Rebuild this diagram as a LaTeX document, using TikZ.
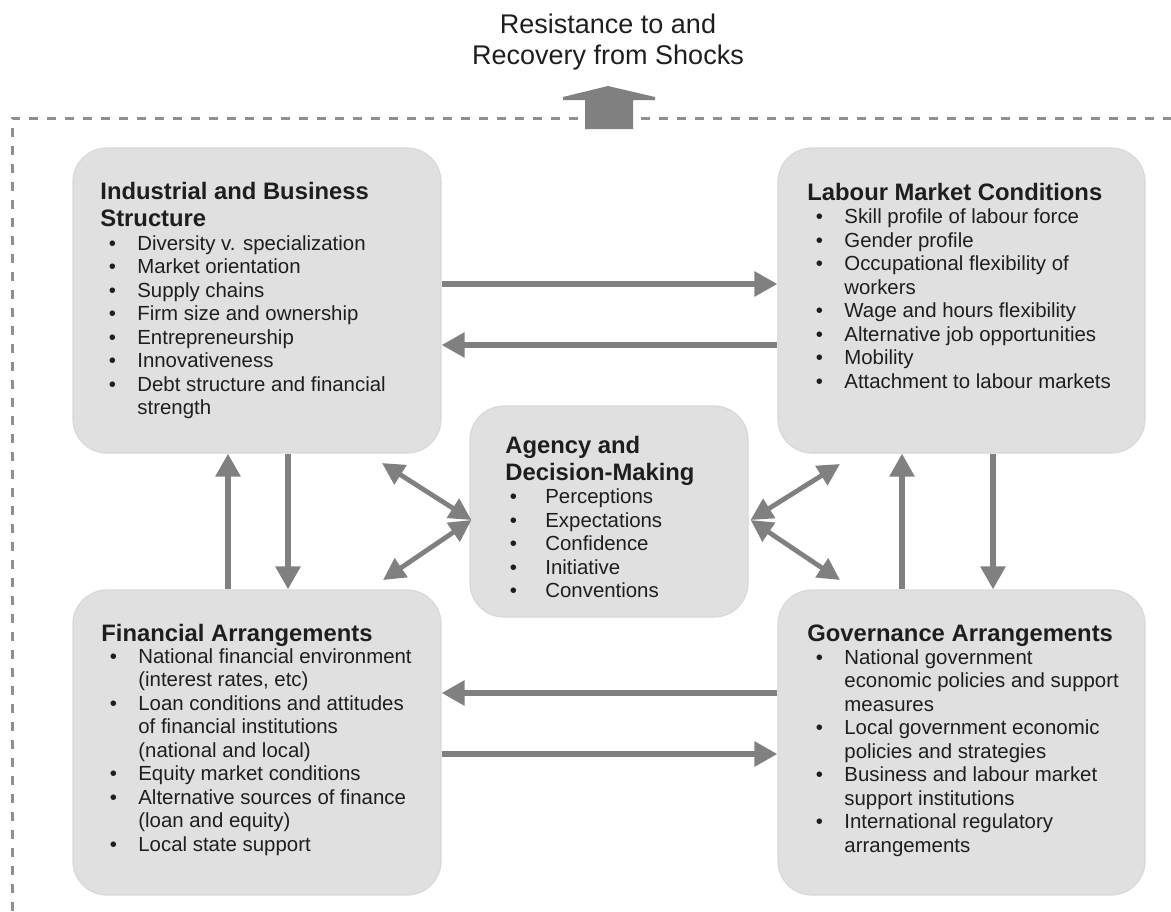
\documentclass[tikz,border=0pt]{standalone}
\usepackage{fontspec}
\setmainfont{Liberation Sans}
\usetikzlibrary{arrows.meta,calc}
\definecolor{boxfill}{HTML}{E0E0E0}
\definecolor{boxedge}{HTML}{D8D8D8}
\definecolor{arrowgray}{HTML}{808080}
\definecolor{textdark}{HTML}{1E1E1E}
\definecolor{dashgray}{HTML}{8F8F8F}
\newcommand{\myTitleFont}{\fontsize{11.9}{13.5}\selectfont\bfseries}
\newcommand{\myItemFont}{\fontsize{10.2}{11.75}\selectfont}
\newcommand{\myb}{\makebox[18.5pt][l]{\hspace*{4.2pt}\textbullet}}
\newcommand{\myc}{\hspace*{18.5pt}}
\newcommand{\mybb}{\makebox[20pt][l]{\hspace*{2.2pt}\textbullet}}
\tikzset{
  box/.style={draw=boxedge, line width=0.6pt, fill=boxfill, rounded corners=17pt, inner sep=0pt},
  txt/.style={anchor=base west, inner sep=0pt, text=textdark},
  arr/.style={draw=arrowgray, line width=3pt, -{Triangle[length=11.5pt,width=12pt]}},
  darr/.style={draw=arrowgray, line width=2.4pt, {Triangle[length=11pt,width=11pt]}-{Triangle[length=11pt,width=11pt]}},
  frame/.style={draw=dashgray, line width=1.5pt, dash pattern=on 4.5pt off 4.5pt}
}
\begin{document}
\begin{tikzpicture}[x=0.5pt,y=-0.5pt]
\useasboundingbox (0,0) rectangle (1171,911);
% dashed frame
\draw[frame] (12,911) -- (12,118) -- (1171,118);
% goal text and arrow
\node[inner sep=0pt, anchor=base, text=textdark] (goal) at (608,33)
  {\parbox[t]{200pt}{\centering\fontsize{13.5}{15.5}\selectfont Resistance to and\\Recovery from Shocks}};
\fill[arrowgray] (585,129) -- (585,100) -- (563,100) -- (563,97) -- (608,86) -- (655,97)
  -- (655,100) -- (633,100) -- (633,129) -- cycle;
% boxes
\node[box, minimum width=184pt, minimum height=152.5pt] (tl) at (257,300.5) {};
\node[box, minimum width=183.5pt, minimum height=152.5pt] (tr) at (961.5,300.5) {};
\node[box, minimum width=184pt, minimum height=152.5pt] (bl) at (257,742.5) {};
\node[box, minimum width=183.5pt, minimum height=152.5pt] (br) at (961.5,742.5) {};
\node[box, minimum width=139pt, minimum height=105.5pt] (ag) at (609,511.5) {};
% texts: industrial
\node[txt] (tlT) at (100,199) {\parbox[t]{250pt}{\myTitleFont Industrial and Business\\Structure}};
\node[txt] (tlL) at (100,250) {\parbox[t]{250pt}{\myItemFont
  \myb Diversity v. specialization\\
  \myb Market orientation\\
  \myb Supply chains\\
  \myb Firm size and ownership\\
  \myb Entrepreneurship\\
  \myb Innovativeness\\
  \myb Debt structure and financial\\
  \myc strength}};
% labour
\node[txt] (trT) at (807,200) {\parbox[t]{250pt}{\myTitleFont Labour Market Conditions}};
\node[txt] (trL) at (807,223.5) {\parbox[t]{250pt}{\myItemFont
  \myb Skill profile of labour force\\
  \myb Gender profile\\
  \myb Occupational flexibility of\\
  \myc workers\\
  \myb Wage and hours flexibility\\
  \myb Alternative job opportunities\\
  \myb Mobility\\
  \myb Attachment to labour markets}};
% agency
\node[txt] (agT) at (505,453) {\parbox[t]{250pt}{\myTitleFont Agency and\\Decision-Making}};
\node[txt] (agL) at (505,503.5) {\parbox[t]{250pt}{\myItemFont
  \mybb Perceptions\\
  \mybb Expectations\\
  \mybb Confidence\\
  \mybb Initiative\\
  \mybb Conventions}};
% financial
\node[txt] (blT) at (101,641) {\parbox[t]{250pt}{\myTitleFont Financial Arrangements}};
\node[txt] (blL) at (101,663) {\parbox[t]{250pt}{\myItemFont
  \myb National financial environment\\
  \myc (interest rates, etc)\\
  \myb Loan conditions and attitudes\\
  \myc of financial institutions\\
  \myc (national and local)\\
  \myb Equity market conditions\\
  \myb Alternative sources of finance\\
  \myc (loan and equity)\\
  \myb Local state support}};
% governance
\node[txt] (brT) at (807,641) {\parbox[t]{250pt}{\myTitleFont Governance Arrangements}};
\node[txt] (brL) at (807,664) {\parbox[t]{250pt}{\myItemFont
  \myb National government\\
  \myc economic policies and support\\
  \myc measures\\
  \myb Local government economic\\
  \myc policies and strategies\\
  \myb Business and labour market\\
  \myc support institutions\\
  \myb International regulatory\\
  \myc arrangements}};
% horizontal arrows
\draw[arr] ($(tl.east)+(0,-16.5)$) -- ($(tr.west)+(0,-16.5)$);
\draw[arr] ($(tr.west)+(0,44.5)$) -- ($(tl.east)+(0,44.5)$);
\draw[arr] ($(br.west)+(0,-49.5)$) -- ($(bl.east)+(0,-49.5)$);
\draw[arr] ($(bl.east)+(0,11.5)$) -- ($(br.west)+(0,11.5)$);
% vertical arrows
\draw[arr] ($(bl.north)+(-29,0)$) -- ($(tl.south)+(-29,0)$);
\draw[arr] ($(tl.south)+(31,0)$) -- ($(bl.north)+(31,0)$);
\draw[arr] ($(br.north)+(-59.5,0)$) -- ($(tr.south)+(-59.5,0)$);
\draw[arr] ($(tr.south)+(31.5,0)$) -- ($(br.north)+(31.5,0)$);
% diagonal double arrows
\coordinate (ul) at (382,463);
\coordinate (ll) at (383,580);
\coordinate (ur) at (840,464);
\coordinate (lr) at (840,580);
\draw[darr] (ul) -- ($(ag.west)+(2,8.5)$);
\draw[darr] (ll) -- ($(ag.west)+(2,8.5)$);
\draw[darr] (ur) -- ($(ag.east)+(2,8.5)$);
\draw[darr] (lr) -- ($(ag.east)+(2,8.5)$);
\end{tikzpicture}
\end{document}
